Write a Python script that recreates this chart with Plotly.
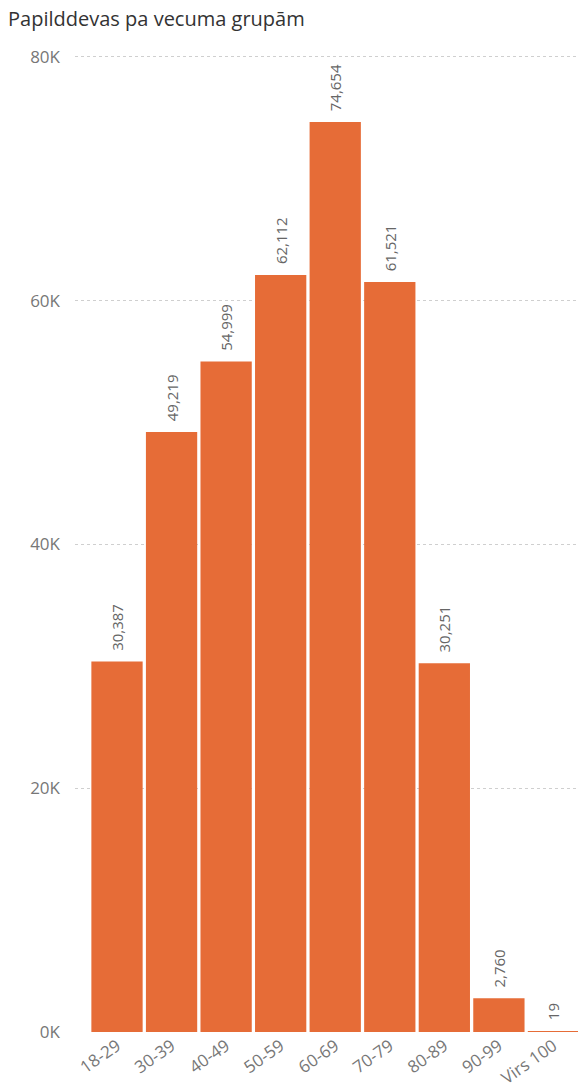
import plotly.graph_objects as go

categories = ["18-29", "30-39", "40-49", "50-59", "60-69", "70-79", "80-89", "90-99", "Virs 100"]
values = [30387, 49219, 54999, 62112, 74654, 61521, 30251, 2760, 19]
tick_vals = [0, 20000, 40000, 60000, 80000]
tick_text = ["0K", "20K", "40K", "60K", "80K"]

FONT = "Segoe UI, Open Sans, DejaVu Sans"

fig = go.Figure(go.Bar(
    x=categories, y=values,
    marker=dict(color="#E66C37", line=dict(width=0)),
    texttemplate="\u00a0\u00a0%{y:,}", textposition="outside", textangle=-90,
    constraintext="none",
    textfont=dict(family=FONT, size=15, color="#666666"),
    cliponaxis=False,
))

fig.update_layout(
    width=578, height=1090,
    margin=dict(l=75, r=0, t=52, b=58, autoexpand=False),
    paper_bgcolor="white", plot_bgcolor="white",
    bargap=0.06,
    showlegend=False,
    title=dict(text="Papilddevas pa vecuma grupām", x=0.014, xanchor="left", y=0.983, yanchor="middle",
               font=dict(family=FONT, size=20, color="#333333")),
    font=dict(family=FONT, color="#777777"),
)
fig.update_yaxes(range=[0, 80400], tickvals=tick_vals, ticktext=tick_text,
                 showgrid=True, gridcolor="#cfcfcf", griddash="dot", gridwidth=1,
                 zeroline=False, showline=False, ticks="", ticklabelstandoff=14,
                 automargin=False,
                 tickfont=dict(size=17, color="#777777"))
fig.update_xaxes(range=[-0.77, 8.45], tickangle=-35, showline=False, ticks="",
                 automargin=False,
                 tickfont=dict(size=17, color="#777777"))

fig.write_html("out.html", config={"displayModeBar": False},
               post_script="document.body.style.margin='0';")
